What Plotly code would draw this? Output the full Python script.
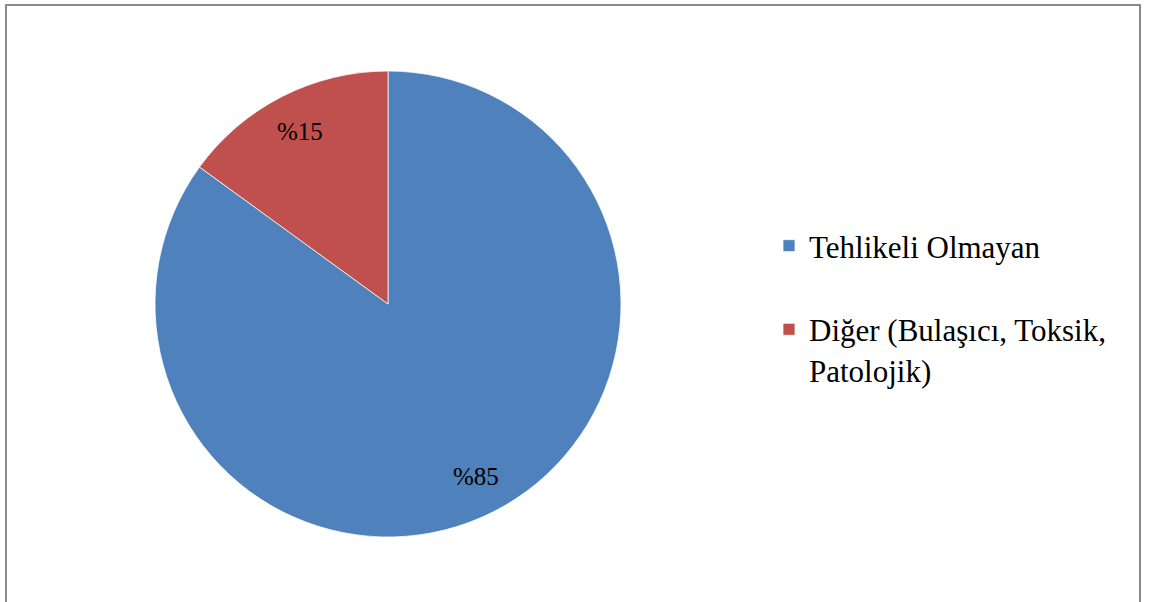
import math
import plotly.graph_objects as go

labels = ["Tehlikeli Olmayan<br> ", "Diğer (Bulaşıcı, Toksik,<br>Patolojik)"]
values = [85, 15]
slice_text = ["%85", "%15"]
colors = ["#4F81BD", "#C0504D"]

W, H = 1152, 602
cx, cy, r = 388, 304, 233
SERIF = "Liberation Serif, Times New Roman, serif"

fig = go.Figure(go.Pie(
    labels=labels,
    values=values,
    textinfo="none",
    sort=False,
    direction="clockwise",
    rotation=0,
    marker=dict(colors=colors, line=dict(color="white", width=0.75)),
    domain=dict(x=[(cx - r) / W, (cx + r) / W], y=[(H - cy - r) / H, (H - cy + r) / H]),
    hoverinfo="label+percent",
))

# slice labels placed at each slice's mid-angle (derived from the values)
total = sum(values)
cum = 0
annotations = []
for v, t in zip(values, slice_text):
    theta = 2 * math.pi * (cum + v / 2) / total
    cum += v
    px = cx + 0.83 * r * math.sin(theta)
    py = cy - 0.83 * r * math.cos(theta)
    annotations.append(dict(
        x=px / W, y=1 - py / H, xref="paper", yref="paper",
        text=t, showarrow=False,
        font=dict(family=SERIF, size=25, color="black"),
        xanchor="center", yanchor="middle",
    ))

fig.update_layout(
    width=W, height=H,
    margin=dict(l=0, r=0, t=0, b=0),
    paper_bgcolor="white",
    plot_bgcolor="white",
    font=dict(family=SERIF, color="black"),
    legend=dict(
        x=769 / W, y=1 - 219 / H, xanchor="left", yanchor="top",
        font=dict(size=31, color="black", family=SERIF),
        valign="top",
        itemwidth=30,
        bgcolor="rgba(0,0,0,0)",
    ),
    annotations=annotations,
    shapes=[dict(
        type="rect", xref="paper", yref="paper",
        x0=6 / W, x1=1140 / W, y0=-0.05, y1=1 - 5 / H,
        line=dict(color="#8a8a8a", width=2),
        layer="below",
    )],
)

fig.write_html("out.html")
